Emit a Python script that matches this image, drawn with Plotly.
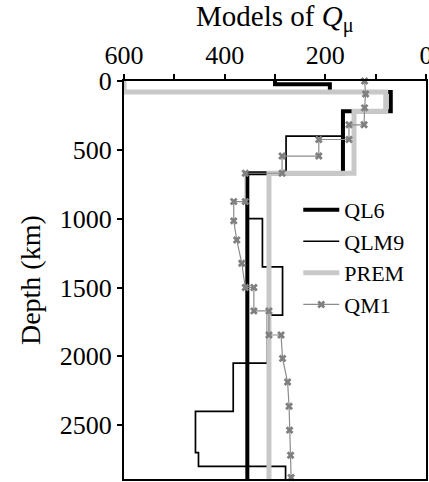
import plotly.graph_objects as go

# Depth (km) and Q_mu values for each model
ql6_depth = [0, 24, 24, 80, 80, 220, 220, 670, 670, 2891]
ql6_q = [300, 300, 191, 191, 70, 70, 165, 165, 355, 355]

qlm9_depth = [220, 400, 400, 670, 670, 1000, 1000, 1350, 1350, 1700, 1700, 2050,
              2050, 2400, 2400, 2700, 2700, 2800, 2800, 2891]
qlm9_q = [165, 165, 278, 278, 355, 355, 325, 325, 285, 285, 315, 315,
          383, 383, 458, 458, 452, 452, 279, 279]

prem_depth = [0, 80, 80, 220, 220, 670, 670, 2891]
prem_q = [600, 600, 80, 80, 143, 143, 312, 312]

qm1_depth = [0, 95, 195, 318, 318, 425, 425, 545, 545, 670, 670, 876, 876, 1016,
             1155, 1324, 1500, 1500, 1670, 1670, 1845, 1845, 2015, 2187, 2362,
             2536, 2718, 2880]
qm1_q = [122, 120, 122, 123, 153, 153, 213, 213, 286, 286, 359, 359, 382, 382,
         376, 366, 359, 342, 342, 312, 312, 288, 285, 275, 272, 271, 269, 268]

x_ticks = [600, 400, 200, 0]
x_minor = [500, 300, 100]
y_ticks = [0, 500, 1000, 1500, 2000, 2500]

FONT = "Liberation Serif"

fig = go.Figure()
fig.add_trace(go.Scatter(x=ql6_q, y=ql6_depth, mode="lines", name="QL6",
                         line=dict(color="black", width=4)))
fig.add_trace(go.Scatter(x=qlm9_q, y=qlm9_depth, mode="lines", name="QLM9",
                         line=dict(color="black", width=1.7)))
fig.add_trace(go.Scatter(x=prem_q, y=prem_depth, mode="lines", name="PREM",
                         line=dict(color="#c8c8c8", width=5)))
fig.add_trace(go.Scatter(x=qm1_q, y=qm1_depth, mode="lines+markers", name="QM1",
                         line=dict(color="#8c8c8c", width=1.2),
                         marker=dict(symbol="x", size=7, color="#808080"),
                         cliponaxis=False))

fig.update_layout(
    template="none",
    width=429, height=482,
    margin=dict(l=124, r=3, t=81, b=3, autoexpand=False),
    paper_bgcolor="white", plot_bgcolor="white",
    font=dict(family=FONT, size=26, color="black"),
    showlegend=True,
    legend=dict(x=0.577, y=0.729, xanchor="left", yanchor="top",
                bgcolor="rgba(0,0,0,0)", font=dict(family=FONT, size=22),
                itemwidth=36, tracegroupgap=0),
    xaxis=dict(side="top", range=[600, 0], tickvals=x_ticks,
               ticktext=[str(v) for v in x_ticks], automargin=False,
               ticks="outside", ticklen=5, tickwidth=2, tickcolor="black",
               minor=dict(tickvals=x_minor, ticks="outside", ticklen=5,
                          tickwidth=2, tickcolor="black", showgrid=False),
               showline=True, linecolor="black", linewidth=2, mirror=True,
               showgrid=False, zeroline=False, ticklabeloverflow="allow",
               tickfont=dict(family=FONT, size=26)),
    yaxis=dict(range=[2891, 0], tickvals=y_ticks, automargin=False,
               ticks="outside", ticklen=5, tickwidth=2, tickcolor="black",
               showline=True, linecolor="black", linewidth=2, mirror=True,
               showgrid=False, zeroline=False, ticklabeloverflow="allow",
               tickfont=dict(family=FONT, size=26)),
    annotations=[
        dict(text="Models of <i>Q</i><sub>μ</sub>", xref="paper", yref="paper",
             x=0.5, y=1.156, xanchor="center", yanchor="middle",
             showarrow=False, font=dict(family=FONT, size=29)),
        dict(text="Depth (km)", xref="paper", yref="paper",
             x=-0.311, y=0.5, xanchor="center", yanchor="middle",
             textangle=-90, showarrow=False, font=dict(family=FONT, size=28)),
    ],
)

fig.write_html("out.html")
